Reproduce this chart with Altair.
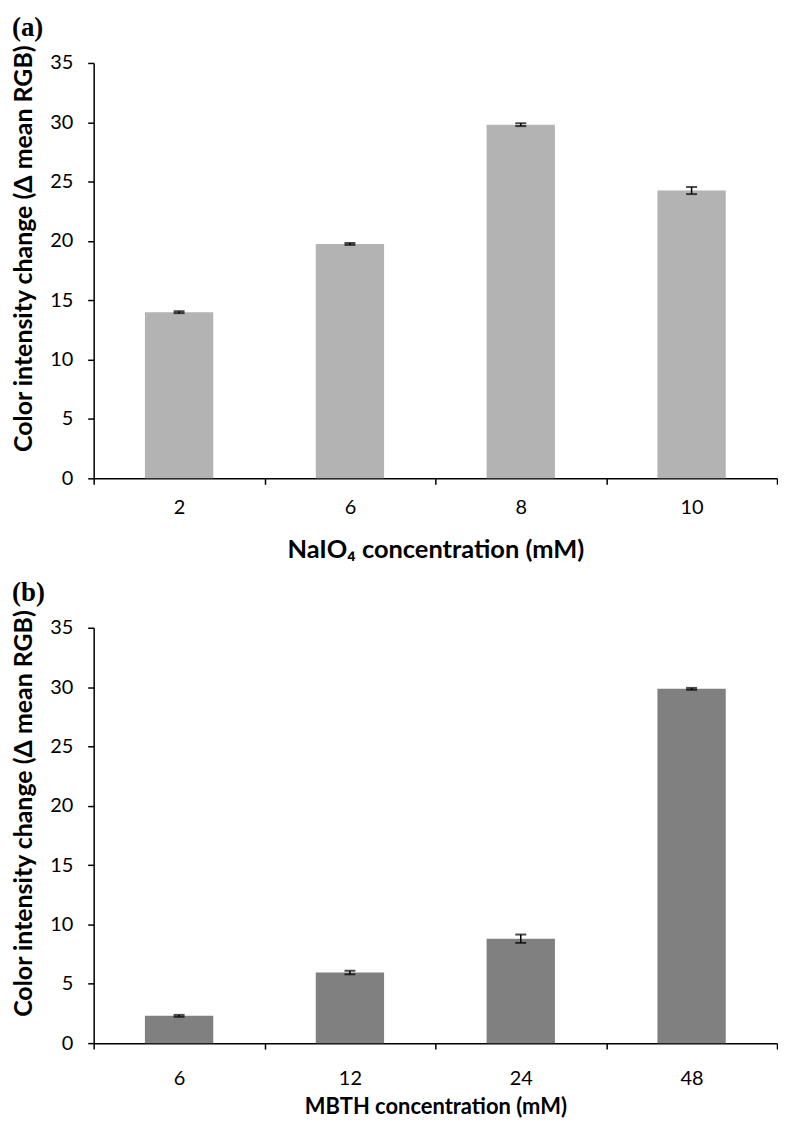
import altair as alt
import pandas as pd

# Panel (a): NaIO4 concentration
conc_a = ["2", "6", "8", "10"]
vals_a = [14.0, 19.75, 29.8, 24.25]
errs_a = [0.08, 0.08, 0.12, 0.3]

# Panel (b): MBTH concentration
conc_b = ["6", "12", "24", "48"]
vals_b = [2.3, 5.95, 8.8, 29.85]
errs_b = [0.08, 0.15, 0.35, 0.08]

y_ticks = [0, 5, 10, 15, 20, 25, 30, 35]

FONT = "Lato"
W = 686
H = 417


def panel(cats, vals, errs, color, label, xtitle, xtitle_size, lab_pad, title_pad):
    df = pd.DataFrame({
        "c": cats,
        "v": vals,
        "lo": [v - e for v, e in zip(vals, errs)],
        "hi": [v + e for v, e in zip(vals, errs)],
    })
    xenc = alt.X(
        "c:N", sort=cats,
        scale=alt.Scale(paddingInner=0, paddingOuter=0),
        axis=alt.Axis(
            title=xtitle, labelAngle=0, tickBand="extent",
            labelFontSize=20, labelPadding=lab_pad, labelColor="black", labelFont=FONT,
            titleFontSize=xtitle_size, titleFontWeight="bold", titleFont=FONT,
            titleColor="black", titlePadding=title_pad,
            tickSize=6, tickWidth=1.5, tickColor="black",
            domainColor="black", domainWidth=1.5,
        ),
    )
    yscale = alt.Scale(domain=[0, 35], nice=False)
    yaxis = alt.Axis(
        title="Color intensity change (Δ mean RGB)", values=y_ticks, grid=False,
        labelFontSize=20, labelPadding=15, labelColor="black", labelFont=FONT,
        titleFontSize=25, titleFontWeight="bold", titleFont=FONT, titleColor="black",
        titleX=-70, titleY=186, titleAngle=-90, titleAlign="center", titleBaseline="middle",
        tickSize=6, tickWidth=1.5, tickColor="black",
        domainColor="black", domainWidth=1.5,
    )
    base = alt.Chart(df)
    bars = base.mark_bar(color=color, width={"band": 0.4}).encode(
        x=xenc, y=alt.Y("v:Q", scale=yscale, axis=yaxis)
    )
    rule = base.mark_rule(color="black", strokeWidth=1.5).encode(
        x=alt.X("c:N", sort=cats), y=alt.Y("lo:Q"), y2="hi:Q"
    )
    cap_lo = base.mark_tick(color="black", orient="horizontal", size=11, thickness=2).encode(
        x=alt.X("c:N", sort=cats), y=alt.Y("lo:Q")
    )
    cap_hi = base.mark_tick(color="black", orient="horizontal", size=11, thickness=2).encode(
        x=alt.X("c:N", sort=cats), y=alt.Y("hi:Q")
    )
    return alt.layer(bars, rule, cap_lo, cap_hi).properties(
        width=W, height=H,
        title=alt.Title(label, anchor="start", frame="bounds", font="Liberation Serif",
                        fontSize=27, fontWeight="bold", color="black", offset=2),
    )


a = panel(conc_a, vals_a, errs_a, "#b3b3b3", "(a)", "NaIO₄ concentration (mM)", 25.5, 13, 20)
b = panel(conc_b, vals_b, errs_b, "#808080", "(b)", "MBTH concentration (mM)", 22, 20, 8)

chart = alt.vconcat(a, b, spacing=150, bounds="flush").properties(
    padding={"left": 3, "top": 4, "right": 0, "bottom": 0}
).configure_view(stroke=None)

chart.save("out.html", embed_options={"renderer": "svg", "actions": False})
